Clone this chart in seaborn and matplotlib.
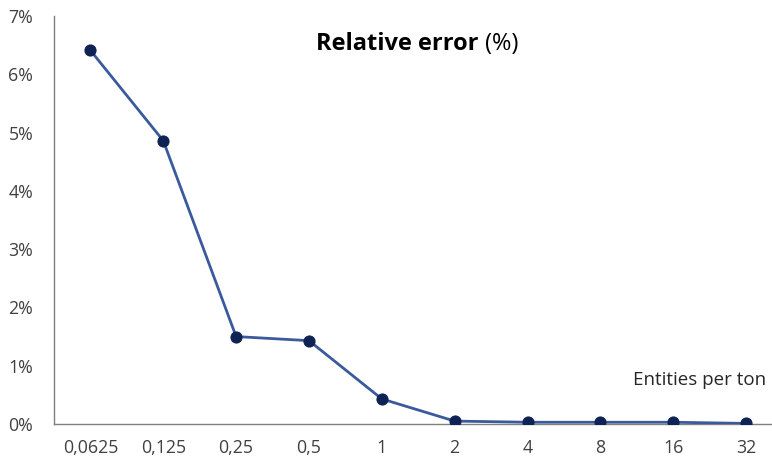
import matplotlib
matplotlib.use("Agg")
import matplotlib.pyplot as plt
import seaborn as sns
import pandas as pd
from matplotlib.ticker import FuncFormatter

# Relative error by number of entities per ton
entities_labels = ["0,0625", "0,125", "0,25", "0,5", "1", "2", "4", "8", "16", "32"]
relative_error = [6.41, 4.86, 1.50, 1.43, 0.43, 0.05, 0.03, 0.03, 0.03, 0.01]

df = pd.DataFrame({"pos": range(len(entities_labels)), "err": relative_error})

sns.set_theme(style="white")
plt.rcParams["font.family"] = ["Open Sans", "DejaVu Sans"]

fig = plt.figure(figsize=(7.72, 4.62), dpi=100)
ax = fig.add_axes([54 / 772, 38 / 462, (772 - 54) / 772, (424 - 16) / 462])

sns.lineplot(data=df, x="pos", y="err", ax=ax, color="#3A5A9C", linewidth=2.0,
             marker="o", markersize=8, markerfacecolor="#0E2254",
             markeredgecolor="#0E2254", zorder=3)

ax.set_xlim(-0.5, 9 + 26 / 73)
ax.set_ylim(0, 7)
ax.set_xticks(range(len(entities_labels)))
ax.set_xticklabels(entities_labels)
ax.set_yticks(range(0, 8))
ax.yaxis.set_major_formatter(FuncFormatter(lambda v, _: f"{int(v)}%"))
ax.tick_params(axis="both", length=0, labelsize=12.8, colors="#404040")
ax.tick_params(axis="x", pad=11)
ax.tick_params(axis="y", pad=15)
ax.set_xlabel("")
ax.set_ylabel("")

for side in ["top", "right"]:
    ax.spines[side].set_visible(False)
for side in ["left", "bottom"]:
    ax.spines[side].set_color("#7F7F7F")
    ax.spines[side].set_linewidth(1.0)

# Title: bold part plus regular unit
fig.text(478 / 772, 1 - 44 / 462, "Relative error", ha="right", va="center",
         fontsize=17, fontweight="bold", color="#000000")
fig.text(485 / 772, 1 - 44 / 462, "(%)", ha="left", va="center",
         fontsize=17, color="#000000")

fig.text(766 / 772, 1 - 380 / 462, "Entities per ton", ha="right", va="center",
         fontsize=13.5, color="#262626")

fig.savefig("out.png", dpi=100)
